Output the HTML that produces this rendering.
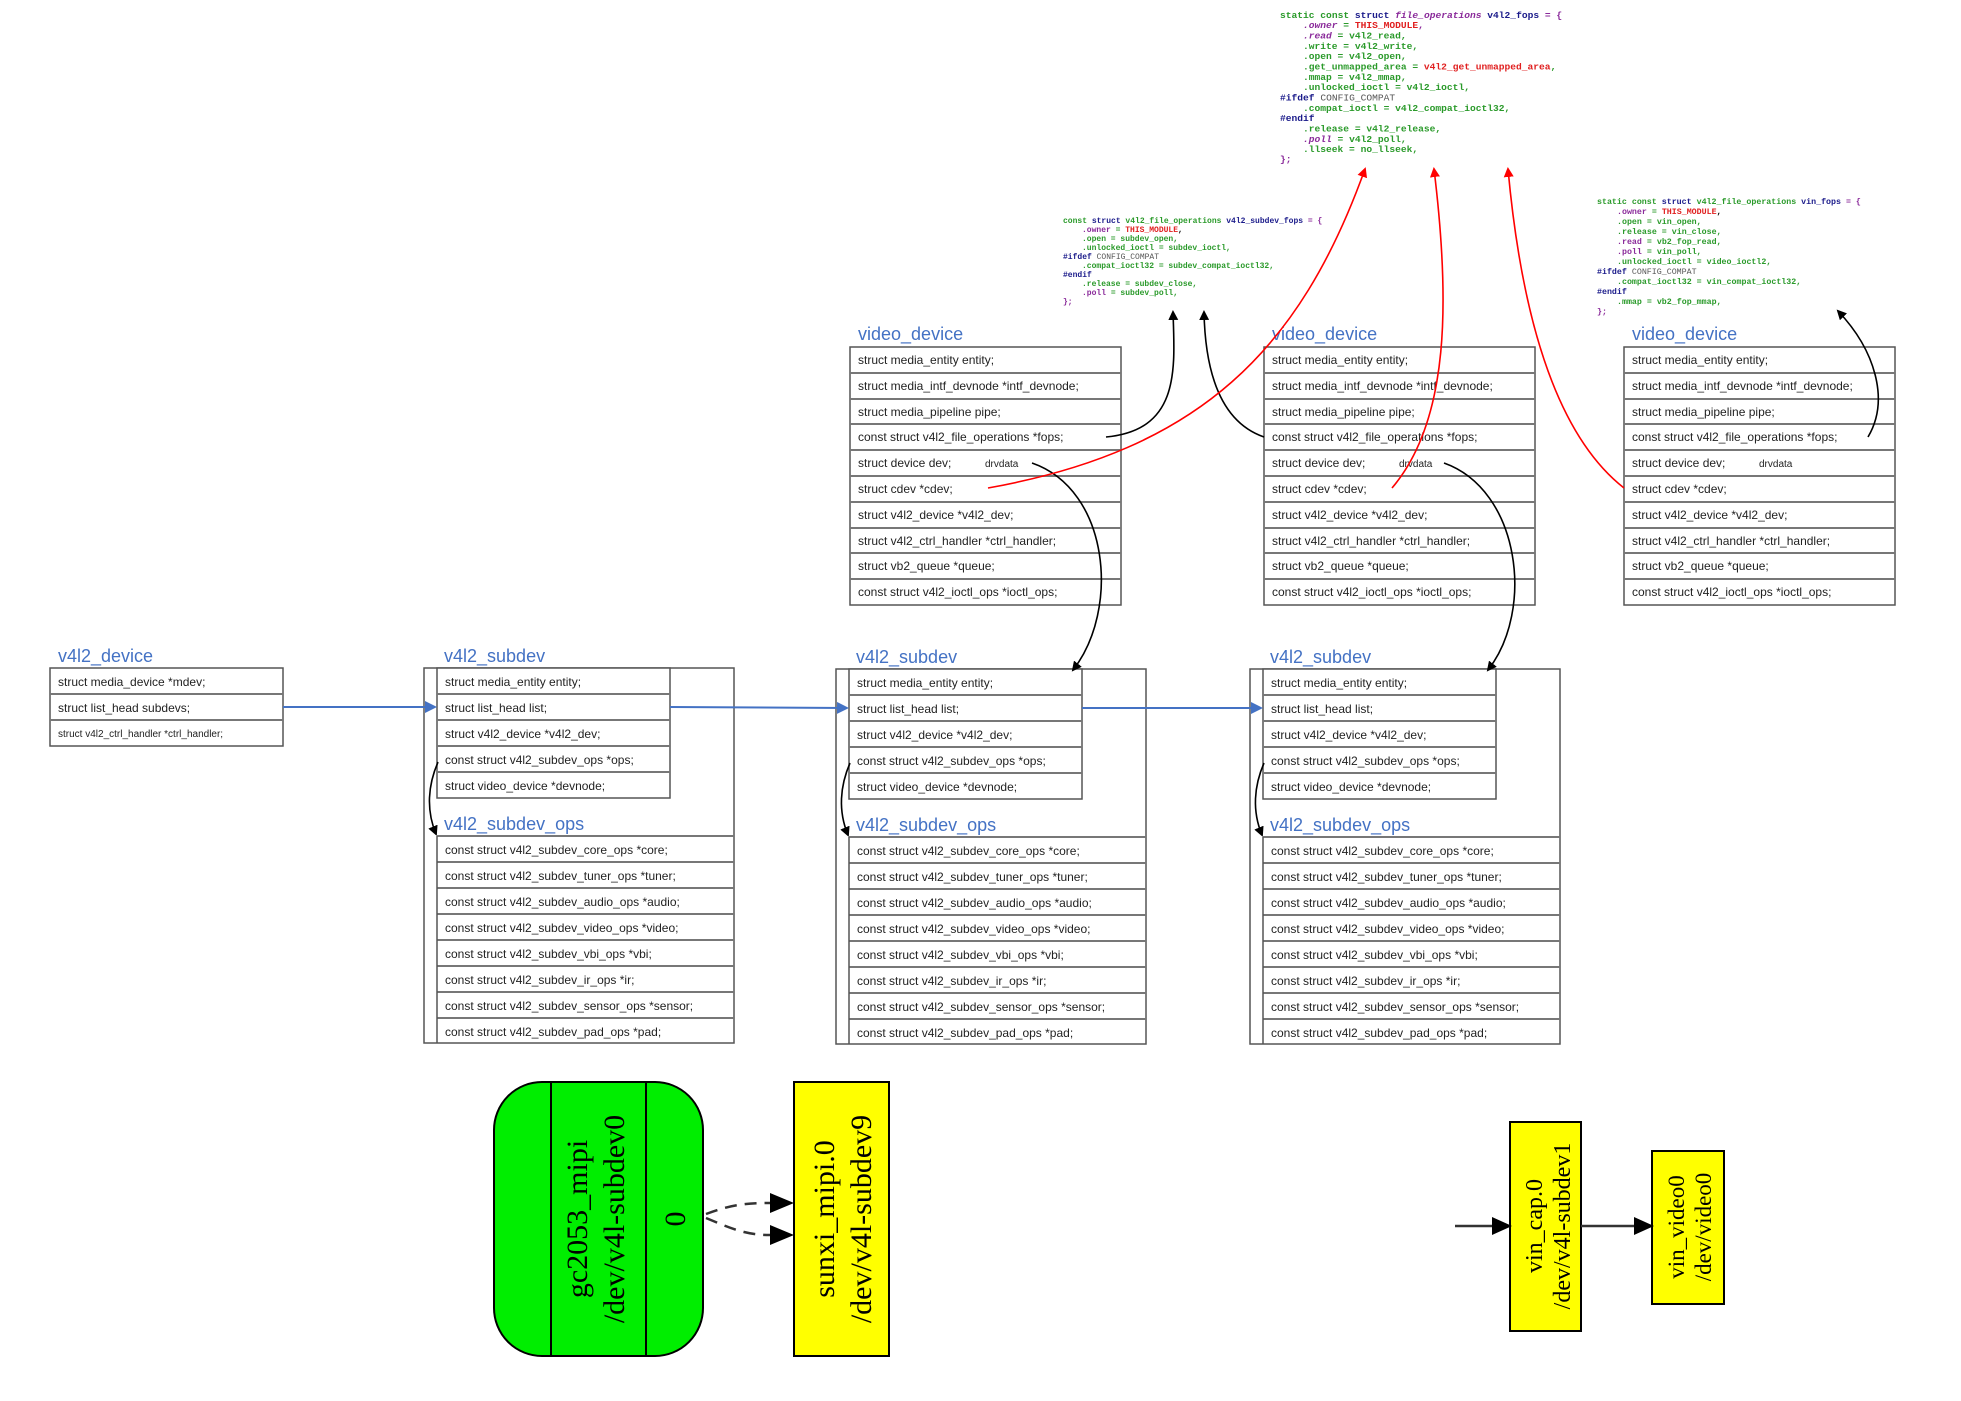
<!DOCTYPE html>
<html><head><meta charset="utf-8"><style>
html,body{margin:0;padding:0;background:#fff;}
svg{display:block;}
.t{font-family:"Liberation Sans",sans-serif;font-size:12px;fill:#222;}
.h{font-family:"Liberation Sans",sans-serif;font-size:18px;fill:#4472c4;}
.c{font-family:"Liberation Mono",monospace;font-weight:bold;}
.g{font-family:"Liberation Serif",serif;fill:#000;}
</style></head><body>
<svg width="1961" height="1401" viewBox="0 0 1961 1401" xmlns="http://www.w3.org/2000/svg">
<defs>
<marker id="ab" markerWidth="10" markerHeight="10" refX="8" refY="5" orient="auto" markerUnits="userSpaceOnUse"><path d="M0,0 L10,5 L0,10 z" fill="#000"/></marker>
<marker id="ar" markerWidth="10" markerHeight="10" refX="8" refY="5" orient="auto" markerUnits="userSpaceOnUse"><path d="M0,0 L10,5 L0,10 z" fill="#f00"/></marker>
<marker id="abl" markerWidth="12" markerHeight="12" refX="10" refY="6" orient="auto" markerUnits="userSpaceOnUse"><path d="M0,0 L12,6 L0,12 z" fill="#4472c4"/></marker>
<marker id="ag" markerWidth="20" markerHeight="18" refX="18" refY="9" orient="auto" markerUnits="userSpaceOnUse"><path d="M0,0 L20,9 L0,18 z" fill="#000"/></marker>
</defs>

<!-- code snippet top -->
<g class="c" font-size="9.6">
<text x="1280" y="18"><tspan fill="#2a9a2a">static const </tspan><tspan fill="#1a1a8a">struct </tspan><tspan fill="#8a2a9a" font-style="italic">file_operations </tspan><tspan fill="#1a1a8a">v4l2_fops </tspan><tspan fill="#8a2a9a">= {</tspan></text>
<text x="1303" y="28"><tspan fill="#8a2a9a" font-style="italic">.owner</tspan><tspan fill="#2a9a2a"> = </tspan><tspan fill="#e02020">THIS_MODULE</tspan><tspan fill="#8a2a9a">,</tspan></text>
<text x="1303" y="38.5" fill="#2a9a2a"><tspan fill="#8a2a9a" font-style="italic">.read</tspan> = v4l2_read,</text>
<text x="1303" y="49" fill="#2a9a2a">.write = v4l2_write,</text>
<text x="1303" y="59" fill="#2a9a2a">.open = v4l2_open,</text>
<text x="1303" y="69.5" fill="#2a9a2a">.get_unmapped_area = <tspan fill="#e02020">v4l2_get_unmapped_area</tspan>,</text>
<text x="1303" y="80" fill="#2a9a2a">.mmap = v4l2_mmap,</text>
<text x="1303" y="90" fill="#2a9a2a">.unlocked_ioctl = v4l2_ioctl,</text>
<text x="1280" y="100.5"><tspan fill="#1a1a8a">#ifdef </tspan><tspan fill="#555" font-weight="normal">CONFIG_COMPAT</tspan></text>
<text x="1303" y="111" fill="#2a9a2a">.compat_ioctl = v4l2_compat_ioctl32,</text>
<text x="1280" y="121" fill="#1a1a8a">#endif</text>
<text x="1303" y="131.5" fill="#2a9a2a">.release = v4l2_release,</text>
<text x="1303" y="142" fill="#2a9a2a"><tspan fill="#8a2a9a" font-style="italic">.poll</tspan> = v4l2_poll,</text>
<text x="1303" y="152" fill="#2a9a2a">.llseek = no_llseek,</text>
<text x="1280" y="162" fill="#8a2a9a">};</text>
</g>

<!-- code snippet mid -->
<g class="c" font-size="8">
<text x="1063" y="223"><tspan fill="#2a9a2a">const </tspan><tspan fill="#1a1a8a">struct </tspan><tspan fill="#2a9a2a">v4l2_file_operations </tspan><tspan fill="#1a1a8a">v4l2_subdev_fops </tspan><tspan fill="#8a2a9a">= {</tspan></text>
<text x="1082" y="232"><tspan fill="#8a2a9a">.owner</tspan><tspan fill="#2a9a2a"> = </tspan><tspan fill="#e02020">THIS_MODULE</tspan>,</text>
<text x="1082" y="241" fill="#2a9a2a">.open = subdev_open,</text>
<text x="1082" y="250" fill="#2a9a2a">.unlocked_ioctl = subdev_ioctl,</text>
<text x="1063" y="259"><tspan fill="#1a1a8a">#ifdef </tspan><tspan fill="#555" font-weight="normal">CONFIG_COMPAT</tspan></text>
<text x="1082" y="268" fill="#2a9a2a">.compat_ioctl32 = subdev_compat_ioctl32,</text>
<text x="1063" y="277" fill="#1a1a8a">#endif</text>
<text x="1082" y="286" fill="#2a9a2a">.release = subdev_close,</text>
<text x="1082" y="295" fill="#2a9a2a"><tspan fill="#8a2a9a">.poll</tspan> = subdev_poll,</text>
<text x="1063" y="304" fill="#8a2a9a">};</text>
</g>

<!-- code snippet right -->
<g class="c" font-size="8.3">
<text x="1597" y="204"><tspan fill="#2a9a2a">static const </tspan><tspan fill="#1a1a8a">struct </tspan><tspan fill="#2a9a2a">v4l2_file_operations </tspan><tspan fill="#1a1a8a">vin_fops </tspan><tspan fill="#8a2a9a">= {</tspan></text>
<text x="1617" y="214"><tspan fill="#8a2a9a">.owner</tspan><tspan fill="#2a9a2a"> = </tspan><tspan fill="#e02020">THIS_MODULE</tspan>,</text>
<text x="1617" y="224" fill="#2a9a2a">.open = vin_open,</text>
<text x="1617" y="234" fill="#2a9a2a">.release = vin_close,</text>
<text x="1617" y="244" fill="#2a9a2a"><tspan fill="#8a2a9a">.read</tspan> = vb2_fop_read,</text>
<text x="1617" y="254" fill="#2a9a2a"><tspan fill="#8a2a9a">.poll</tspan> = vin_poll,</text>
<text x="1617" y="264" fill="#2a9a2a">.unlocked_ioctl = video_ioctl2,</text>
<text x="1597" y="274"><tspan fill="#1a1a8a">#ifdef </tspan><tspan fill="#555" font-weight="normal">CONFIG_COMPAT</tspan></text>
<text x="1617" y="284" fill="#2a9a2a">.compat_ioctl32 = vin_compat_ioctl32,</text>
<text x="1597" y="294" fill="#1a1a8a">#endif</text>
<text x="1617" y="304" fill="#2a9a2a">.mmap = vb2_fop_mmap,</text>
<text x="1597" y="314" fill="#8a2a9a">};</text>
</g>

<!-- video_device boxes -->
<g id="vd1">
<text class="h" x="858" y="340">video_device</text>
<g fill="#fff" stroke="#555" stroke-width="1.5">
<rect x="850" y="347" width="271" height="258"/>
</g>
<g stroke="#777" stroke-width="2">
<line x1="850" y1="373" x2="1121" y2="373"/><line x1="850" y1="399" x2="1121" y2="399"/><line x1="850" y1="424" x2="1121" y2="424"/><line x1="850" y1="450" x2="1121" y2="450"/><line x1="850" y1="476" x2="1121" y2="476"/><line x1="850" y1="502" x2="1121" y2="502"/><line x1="850" y1="528" x2="1121" y2="528"/><line x1="850" y1="553" x2="1121" y2="553"/><line x1="850" y1="579" x2="1121" y2="579"/>
</g>
<g class="t">
<text x="858" y="364">struct media_entity entity;</text>
<text x="858" y="390">struct media_intf_devnode *intf_devnode;</text>
<text x="858" y="416">struct media_pipeline pipe;</text>
<text x="858" y="441">const struct v4l2_file_operations *fops;</text>
<text x="858" y="467">struct device dev;<tspan x="985" font-size="10">drvdata</tspan></text>
<text x="858" y="493">struct cdev *cdev;</text>
<text x="858" y="519">struct v4l2_device *v4l2_dev;</text>
<text x="858" y="545">struct v4l2_ctrl_handler *ctrl_handler;</text>
<text x="858" y="570">struct vb2_queue *queue;</text>
<text x="858" y="596">const struct v4l2_ioctl_ops *ioctl_ops;</text>
</g>
</g>
<use href="#vd1" x="414"/>
<use href="#vd1" x="774"/>

<!-- v4l2_device -->
<text class="h" x="58" y="662">v4l2_device</text>
<rect x="50" y="668" width="233" height="78" fill="#fff" stroke="#555" stroke-width="1.5"/>
<line x1="50" y1="694" x2="283" y2="694" stroke="#777" stroke-width="2"/>
<line x1="50" y1="720" x2="283" y2="720" stroke="#777" stroke-width="2"/>
<g class="t">
<text x="58" y="686">struct media_device *mdev;</text>
<text x="58" y="712">struct list_head subdevs;</text>
<text x="58" y="737" font-size="10">struct v4l2_ctrl_handler *ctrl_handler;</text>
</g>

<!-- subdev group -->
<g id="sd1">
<text class="h" x="444" y="662">v4l2_subdev</text>
<rect x="424" y="668" width="310" height="375" fill="#fff" stroke="#555" stroke-width="1.5"/>
<rect x="437" y="668" width="233" height="130" fill="#fff" stroke="#555" stroke-width="1.5"/>
<g stroke="#777" stroke-width="2">
<line x1="437" y1="694" x2="670" y2="694"/><line x1="437" y1="720" x2="670" y2="720"/><line x1="437" y1="746" x2="670" y2="746"/><line x1="437" y1="772" x2="670" y2="772"/>
<line x1="437" y1="836" x2="734" y2="836"/><line x1="437" y1="862" x2="734" y2="862"/><line x1="437" y1="888" x2="734" y2="888"/><line x1="437" y1="914" x2="734" y2="914"/><line x1="437" y1="940" x2="734" y2="940"/><line x1="437" y1="966" x2="734" y2="966"/><line x1="437" y1="992" x2="734" y2="992"/><line x1="437" y1="1018" x2="734" y2="1018"/>
</g>
<line x1="437" y1="836" x2="437" y2="1043" stroke="#555" stroke-width="1.5"/>
<text class="h" x="444" y="830">v4l2_subdev_ops</text>
<g class="t">
<text x="445" y="686">struct media_entity entity;</text>
<text x="445" y="712">struct list_head list;</text>
<text x="445" y="738">struct v4l2_device *v4l2_dev;</text>
<text x="445" y="764">const struct v4l2_subdev_ops *ops;</text>
<text x="445" y="790">struct video_device *devnode;</text>
<text x="445" y="854">const struct v4l2_subdev_core_ops   *core;</text>
<text x="445" y="880">const struct v4l2_subdev_tuner_ops  *tuner;</text>
<text x="445" y="906">const struct v4l2_subdev_audio_ops  *audio;</text>
<text x="445" y="932">const struct v4l2_subdev_video_ops  *video;</text>
<text x="445" y="958">const struct v4l2_subdev_vbi_ops     *vbi;</text>
<text x="445" y="984">const struct v4l2_subdev_ir_ops       *ir;</text>
<text x="445" y="1010">const struct v4l2_subdev_sensor_ops *sensor;</text>
<text x="445" y="1036">const struct v4l2_subdev_pad_ops     *pad;</text>
</g>
<path d="M438,762 C428,785 426,810 436,834" fill="none" stroke="#000" stroke-width="1.6" marker-end="url(#ab)"/>
</g>
<use href="#sd1" x="412" y="1"/>
<use href="#sd1" x="826" y="1"/>

<!-- blue list arrows -->
<g stroke="#4472c4" stroke-width="2" fill="none">
<line x1="283" y1="707" x2="435" y2="707" marker-end="url(#abl)"/>
<line x1="670" y1="707" x2="847" y2="708" marker-end="url(#abl)"/>
<line x1="1082" y1="708" x2="1261" y2="708" marker-end="url(#abl)"/>
</g>

<!-- black curves -->
<g fill="none" stroke="#000" stroke-width="1.6">
<path d="M1106,437 C1180,430 1175,370 1173,312" marker-end="url(#ab)"/>
<path d="M1264,437 C1215,420 1205,360 1204,312" marker-end="url(#ab)"/>
<path d="M1868,437 C1890,400 1875,350 1838,311" marker-end="url(#ab)"/>
<path d="M1032,463 C1110,490 1120,610 1073,670" marker-end="url(#ab)"/>
<path d="M1444,463 C1520,490 1535,610 1488,670" marker-end="url(#ab)"/>
</g>
<!-- red curves -->
<g fill="none" stroke="#f00" stroke-width="1.6">
<path d="M988,488 C1200,450 1300,350 1365,169" marker-end="url(#ar)"/>
<path d="M1392,488 C1450,420 1450,300 1434,169" marker-end="url(#ar)"/>
<path d="M1624,488 C1550,430 1520,300 1508,169" marker-end="url(#ar)"/>
</g>

<!-- graphviz bottom -->
<rect x="494" y="1082" width="209" height="274" rx="48" ry="48" fill="#00ee00" stroke="#000" stroke-width="2"/>
<line x1="551" y1="1082" x2="551" y2="1356" stroke="#000" stroke-width="2"/>
<line x1="646" y1="1082" x2="646" y2="1356" stroke="#000" stroke-width="2"/>
<g class="g" font-size="30" text-anchor="middle">
<text transform="translate(587,1219) rotate(-90)">gc2053_mipi</text>
<text transform="translate(624,1219) rotate(-90)">/dev/v4l-subdev0</text>
<text transform="translate(685,1219) rotate(-90)">0</text>
</g>
<rect x="794" y="1082" width="95" height="274" fill="#ffff00" stroke="#000" stroke-width="2"/>
<g class="g" font-size="30" text-anchor="middle">
<text transform="translate(834,1219) rotate(-90)">sunxi_mipi.0</text>
<text transform="translate(871,1219) rotate(-90)">/dev/v4l-subdev9</text>
</g>
<g fill="none" stroke="#333" stroke-width="2.5" stroke-dasharray="12,8">
<path d="M706,1214 C730,1205 745,1203 770,1203"/>
<path d="M706,1218 C730,1228 745,1235 770,1235"/>
</g>
<path d="M770,1193 L794,1203 L770,1213 z" fill="#000"/>
<path d="M770,1225 L794,1235 L770,1245 z" fill="#000"/>

<rect x="1510" y="1122" width="71" height="209" fill="#ffff00" stroke="#000" stroke-width="2"/>
<g class="g" font-size="24" text-anchor="middle">
<text transform="translate(1542,1226) rotate(-90)">vin_cap.0</text>
<text transform="translate(1570,1226) rotate(-90)">/dev/v4l-subdev1</text>
</g>
<rect x="1652" y="1151" width="72" height="153" fill="#ffff00" stroke="#000" stroke-width="2"/>
<g class="g" font-size="23" text-anchor="middle">
<text transform="translate(1684,1227) rotate(-90)">vin_video0</text>
<text transform="translate(1711,1227) rotate(-90)">/dev/video0</text>
</g>
<line x1="1455" y1="1226" x2="1510" y2="1226" stroke="#333" stroke-width="2.5" marker-end="url(#ag)"/>
<line x1="1581" y1="1226" x2="1652" y2="1226" stroke="#333" stroke-width="2.5" marker-end="url(#ag)"/>
</svg>
</body></html>
